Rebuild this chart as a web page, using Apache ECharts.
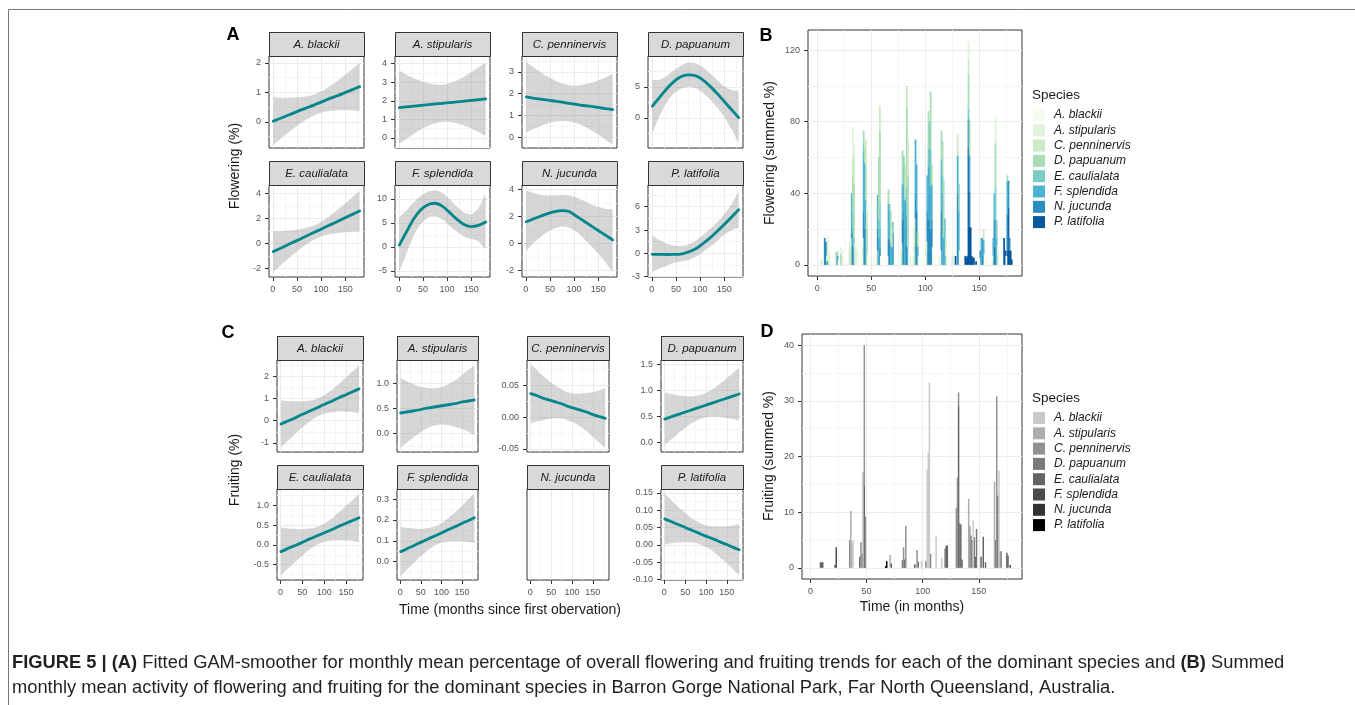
<!DOCTYPE html>
<html>
<head>
<meta charset="utf-8">
<title>Flowering and fruiting trends</title>
<script src="https://cdn.jsdelivr.net/npm/echarts@6.0.0/dist/echarts.min.js"></script>
<style>
  html, body { margin: 0; padding: 0; background: #fff; }
  #chart { width: 1355px; height: 705px; }
</style>
</head>
<body>
<div id="chart"></div>
<script>
var species = ['A. blackii', 'A. stipularis', 'C. penninervis', 'D. papuanum',
               'E. caulialata', 'F. splendida', 'N. jucunda', 'P. latifolia'];
var flowerColors = ['#f7fcf0', '#e0f3db', '#ccebc5', '#a8ddb5', '#7bccc4', '#4eb3d3', '#2b8cbe', '#08589e'];
var fruitColors = ['#c9c9c9', '#adadad', '#919191', '#7a7a7a', '#636363', '#4b4b4b', '#333333', '#000000'];

var gamMonths = [1, 15, 30, 45, 60, 75, 90, 105, 120, 135, 150, 165, 180];
var timeBreaks = [0, 50, 100, 150];

// (A) flowering
var flBlackiiFit = [0.02, 0.11, 0.21, 0.31, 0.41, 0.50, 0.60, 0.70, 0.80, 0.89, 0.99, 1.09, 1.19];
var flBlackiiLo  = [-0.78, -0.59, -0.39, -0.20, -0.02, 0.13, 0.25, 0.33, 0.37, 0.39, 0.39, 0.39, 0.39];
var flBlackiiHi  = [0.82, 0.81, 0.81, 0.82, 0.84, 0.87, 0.95, 1.07, 1.23, 1.40, 1.59, 1.79, 1.99];
var flStipularisFit = [1.63, 1.67, 1.71, 1.75, 1.79, 1.83, 1.86, 1.90, 1.94, 1.98, 2.02, 2.06, 2.10];
var flStipularisLo  = [-0.32, -0.06, 0.20, 0.44, 0.64, 0.79, 0.86, 0.86, 0.79, 0.67, 0.51, 0.33, 0.15];
var flStipularisHi  = [3.58, 3.40, 3.22, 3.06, 2.94, 2.87, 2.86, 2.94, 3.09, 3.29, 3.53, 3.79, 4.05];
var flPenninervisFit = [1.85, 1.80, 1.75, 1.71, 1.66, 1.61, 1.56, 1.51, 1.46, 1.42, 1.37, 1.32, 1.27];
var flPenninervisLo  = [0.25, 0.38, 0.51, 0.63, 0.71, 0.75, 0.73, 0.65, 0.51, 0.34, 0.13, -0.10, -0.33];
var flPenninervisHi  = [3.45, 3.22, 2.99, 2.79, 2.61, 2.47, 2.39, 2.37, 2.41, 2.50, 2.61, 2.74, 2.87];
var flPapuanumFit = [1.9, 3.2, 4.6, 5.8, 6.6, 6.9, 6.8, 6.15, 5.15, 3.95, 2.65, 1.35, 0.05];
var flPapuanumLo  = [-2.2, 0.2, 2.4, 3.9, 4.7, 5.0, 4.8, 4.1, 3.0, 1.7, 0.2, -1.8, -4.0];
var flPapuanumHi  = [6.0, 6.1, 6.7, 7.6, 8.4, 8.9, 8.8, 8.2, 7.2, 6.1, 5.1, 4.5, 4.2];
var flCaulialataFit = [-0.67, -0.42, -0.14, 0.13, 0.40, 0.68, 0.95, 1.22, 1.49, 1.76, 2.04, 2.31, 2.58];
var flCaulialataLo  = [-2.27, -1.80, -1.30, -0.81, -0.35, 0.07, 0.39, 0.61, 0.74, 0.82, 0.88, 0.93, 0.98];
var flCaulialataHi  = [0.93, 0.96, 1.02, 1.07, 1.15, 1.30, 1.51, 1.84, 2.24, 2.70, 3.20, 3.69, 4.18];
var flSplendidaFit = [0.4, 3.0, 5.7, 7.7, 8.8, 9.1, 8.5, 7.2, 5.8, 4.7, 4.25, 4.5, 5.2];
var flSplendidaLo  = [-5.1, -1.5, 2.2, 4.8, 6.1, 6.4, 5.7, 4.4, 3.2, 2.2, 1.7, 1.2, -0.3];
var flSplendidaHi  = [6.0, 7.5, 9.2, 10.6, 11.5, 11.8, 11.3, 10.0, 8.4, 7.2, 6.8, 8.0, 10.8];
var flJucundaFit = [1.6, 1.8, 2.0, 2.2, 2.35, 2.42, 2.35, 2.0, 1.65, 1.3, 0.95, 0.6, 0.25];
var flJucundaLo  = [-0.5, 0.0, 0.45, 0.85, 1.12, 1.25, 1.15, 0.85, 0.35, -0.2, -0.75, -1.4, -2.1];
var flJucundaHi  = [3.9, 3.75, 3.6, 3.55, 3.55, 3.58, 3.55, 3.4, 3.15, 2.9, 2.7, 2.55, 2.47];
var flLatifoliaFit = [-0.13, -0.14, -0.15, -0.14, -0.1, 0.15, 0.55, 1.2, 1.95, 2.8, 3.7, 4.65, 5.6];
var flLatifoliaLo  = [-2.4, -2.0, -1.6, -1.25, -1.05, -0.85, -0.5, 0.1, 0.8, 1.6, 2.4, 3.0, 3.4];
var flLatifoliaHi  = [2.2, 1.7, 1.3, 1.0, 0.95, 1.15, 1.6, 2.3, 3.1, 4.0, 5.0, 6.3, 7.9];

// (C) fruiting
var frBlackiiFit = [-0.15, -0.03, 0.10, 0.24, 0.37, 0.50, 0.64, 0.77, 0.90, 1.04, 1.17, 1.30, 1.43];
var frBlackiiLo  = [-1.20, -0.94, -0.67, -0.39, -0.15, 0.07, 0.24, 0.34, 0.38, 0.41, 0.40, 0.39, 0.38];
var frBlackiiHi  = [0.90, 0.88, 0.87, 0.87, 0.89, 0.93, 1.04, 1.20, 1.42, 1.67, 1.94, 2.21, 2.48];
var frStipularisFit = [0.41, 0.43, 0.45, 0.47, 0.50, 0.52, 0.54, 0.56, 0.58, 0.60, 0.63, 0.65, 0.67];
var frStipularisLo  = [-0.28, -0.19, -0.09, 0.00, 0.08, 0.14, 0.17, 0.18, 0.16, 0.13, 0.09, 0.04, -0.02];
var frStipularisHi  = [1.10, 1.05, 0.99, 0.94, 0.92, 0.90, 0.91, 0.94, 1.00, 1.07, 1.17, 1.27, 1.36];
var frPenninervisFit = [0.037, 0.034, 0.030, 0.027, 0.024, 0.021, 0.017, 0.014, 0.011, 0.008, 0.004, 0.001, -0.002];
var frPenninervisLo  = [-0.009, -0.007, -0.005, -0.003, -0.002, -0.002, -0.005, -0.009, -0.015, -0.022, -0.031, -0.040, -0.048];
var frPenninervisHi  = [0.083, 0.075, 0.065, 0.057, 0.050, 0.044, 0.039, 0.037, 0.037, 0.038, 0.039, 0.042, 0.044];
var frPapuanumFit = [0.45, 0.49, 0.53, 0.57, 0.61, 0.65, 0.69, 0.73, 0.77, 0.81, 0.85, 0.89, 0.93];
var frPapuanumLo  = [-0.05, 0.05, 0.15, 0.25, 0.34, 0.41, 0.46, 0.49, 0.50, 0.49, 0.47, 0.45, 0.43];
var frPapuanumHi  = [0.95, 0.93, 0.91, 0.89, 0.88, 0.89, 0.92, 0.97, 1.04, 1.13, 1.23, 1.33, 1.43];
var frCaulialataFit = [-0.17, -0.10, -0.03, 0.04, 0.12, 0.19, 0.26, 0.33, 0.40, 0.48, 0.55, 0.62, 0.69];
var frCaulialataLo  = [-0.77, -0.62, -0.47, -0.32, -0.17, -0.05, 0.04, 0.09, 0.11, 0.12, 0.11, 0.10, 0.09];
var frCaulialataHi  = [0.43, 0.42, 0.41, 0.40, 0.41, 0.43, 0.48, 0.57, 0.69, 0.84, 0.99, 1.14, 1.29];
var frSplendidaFit = [0.048, 0.061, 0.074, 0.088, 0.101, 0.115, 0.128, 0.142, 0.156, 0.169, 0.183, 0.196, 0.210];
var frSplendidaLo  = [-0.068, -0.040, -0.011, 0.018, 0.043, 0.067, 0.083, 0.094, 0.098, 0.099, 0.098, 0.095, 0.094];
var frSplendidaHi  = [0.164, 0.162, 0.159, 0.158, 0.159, 0.164, 0.173, 0.190, 0.214, 0.239, 0.268, 0.297, 0.326];
var frLatifoliaFit = [0.075, 0.068, 0.060, 0.053, 0.045, 0.038, 0.030, 0.023, 0.016, 0.008, 0.001, -0.007, -0.014];
var frLatifoliaLo  = [0.003, 0.005, 0.007, 0.008, 0.008, 0.006, 0.000, -0.009, -0.021, -0.037, -0.052, -0.070, -0.086];
var frLatifoliaHi  = [0.147, 0.131, 0.113, 0.098, 0.082, 0.070, 0.060, 0.055, 0.053, 0.053, 0.054, 0.056, 0.058];

// (B) summed monthly flowering, [month, %]
var flBarsBlackii = [[12,2],[13,2],[16,3],[20,3],[24,2],[28,2],[36,5],[37,5],[38,6],[40,3],[41,6],[42,5],[47,6],[49,4],[52,6],[53,7],[54,5],[55,3],[59,5],[63,3],[65,5],[72,5],[76,5],[85,10],[86,2],[89,3],[94,5],[96,3],[100,5],[107,4],[108,6],[110,3],[114,8],[120,3],[121,5],[126,2],[132,8],[134,5],[150,4],[155,6],[156,4],[157,3],[162,2],[175,5]];
var flBarsStipularis = [[10,14],[11,4],[17,7],[22,4],[23,3],[30,5],[31,5],[33,17],[34,7],[35,5],[36,10],[37,8],[42,10],[46,5],[55,5],[78,5],[86,6],[89,5],[90,6],[101,5],[107,6],[113,5],[120,5],[126,5],[140,10],[162,3],[165,15],[167,5]];
var flBarsPenninervis = [[4,3],[9,3],[11,4],[19,3],[23,5],[30,8],[31,10],[33,10],[34,15],[35,7],[44,5],[45,14],[46,10],[58,14],[69,11],[78,7],[83,12],[84,21],[90,10],[101,8],[119,10],[125,4],[130,12],[140,8],[154,6],[167,6]];
var flBarsPapuanum = [[22,6],[33,20],[34,30],[43,6],[44,8],[45,20],[46,20],[57,35],[58,40],[66,8],[68,18],[79,19],[81,20],[83,45],[84,40],[90,10],[93,8],[103,21],[105,33],[106,11],[115,16],[116,19],[117,33],[140,20],[141,20],[165,25],[176,3]];
var flBarsCaulialata = [[33,10],[34,5],[43,5],[57,10],[58,15],[67,4],[70,6],[80,6],[83,15],[103,10],[105,20],[116,10],[119,5],[131,15],[140,5],[165,18],[166,10]];
var flBarsSplendida = [[9,2],[10,2],[19,5],[32,22],[33,10],[34,10],[43,34],[44,37],[45,36],[56,19],[57,15],[58,10],[66,19],[67,16],[68,12],[69,10],[79,20],[80,25],[81,36],[82,18],[83,18],[84,10],[91,30],[92,26],[93,10],[102,20],[103,30],[104,40],[105,24],[106,20],[115,29],[116,40],[117,15],[118,26],[130,21],[131,30],[140,1],[141,20],[152,15],[154,14],[163,15],[164,15],[165,15],[166,15],[176,19]];
var flBarsJucunda = [[7,15],[8,13],[18,7],[32,18],[33,10],[43,30],[44,20],[56,20],[58,10],[66,15],[67,14],[70,18],[79,25],[80,30],[82,20],[83,10],[91,40],[92,30],[102,30],[103,25],[104,40],[105,20],[106,25],[115,30],[130,40],[140,15],[141,20],[151,8],[153,10],[164,15],[165,10],[176,20],[177,15],[178,7]];
var flBarsLatifolia = [[128,5],[137,5],[138,4],[139,5],[140,66],[141,21],[142,21],[143,5],[144,4],[145,4],[147,2],[153,5],[164,10],[173,15],[174,8],[176,8],[177,32],[178,8],[179,8],[180,3]];

// (D) summed monthly fruiting, [month, %]
var frBarsBlackii = [[38,5],[99,1.3],[104,17.7],[105,20.6],[106,33.3],[112,5.8],[117,1.8],[145,8.5],[168,17.5]];
var frBarsStipularis = [[36,10.2],[37,4.5],[47,17.2],[71,2.3],[141,12.4],[164,15.5]];
var frBarsPenninervis = [[35,5],[45,4.6],[48,25.3],[49,9.2],[83,3.7],[85,7.5],[95,3.2],[130,10.8],[131,16.2],[132,2.3],[142,7.5],[166,30.8],[169,3],[170,3]];
var frBarsPapuanum = [[46,2.5],[82,1.4],[107,2.5],[120,3.5],[133,8],[143,5.8],[144,5],[146,5.5],[148,7],[165,5]];
var frBarsCaulialata = [[9,1],[10,1],[11,1],[44,2],[48,14.7],[84,1.5],[96,1.1],[103,1.2],[121,4],[122,4],[132,29.2],[134,7.8],[135,1.5],[147,2],[152,2],[154,5.6],[156,1],[167,13],[175,2.7],[176,2.2]];
var frBarsSplendida = [[22,0.5],[23,3.7],[72,0.8],[93,0.6],[178,0.5]];
var frBarsJucunda = [];
var frBarsLatifolia = [[67,0.3],[68,1.2]];

var flowerFacets = [
  {name: 'A. blackii', fit: flBlackiiFit, lo: flBlackiiLo, hi: flBlackiiHi, y: [-0.89, 2.23], breaks: [0, 1, 2], dec: 0},
  {name: 'A. stipularis', fit: flStipularisFit, lo: flStipularisLo, hi: flStipularisHi, y: [-0.54, 4.41], breaks: [0, 1, 2, 3, 4], dec: 0},
  {name: 'C. penninervis', fit: flPenninervisFit, lo: flPenninervisLo, hi: flPenninervisHi, y: [-0.49, 3.73], breaks: [0, 1, 2, 3], dec: 0},
  {name: 'D. papuanum', fit: flPapuanumFit, lo: flPapuanumLo, hi: flPapuanumHi, y: [-4.84, 9.95], breaks: [0, 5], dec: 0},
  {name: 'E. caulialata', fit: flCaulialataFit, lo: flCaulialataLo, hi: flCaulialataHi, y: [-2.7, 4.66], breaks: [-2, 0, 2, 4], dec: 0},
  {name: 'F. splendida', fit: flSplendidaFit, lo: flSplendidaLo, hi: flSplendidaHi, y: [-6.25, 12.9], breaks: [-5, 0, 5, 10], dec: 0},
  {name: 'N. jucunda', fit: flJucundaFit, lo: flJucundaLo, hi: flJucundaHi, y: [-2.5, 4.32], breaks: [-2, 0, 2, 4], dec: 0},
  {name: 'P. latifolia', fit: flLatifoliaFit, lo: flLatifoliaLo, hi: flLatifoliaHi, y: [-3.05, 8.8], breaks: [-3, 0, 3, 6], dec: 0}
];
var fruitFacets = [
  {name: 'A. blackii', fit: frBlackiiFit, lo: frBlackiiLo, hi: frBlackiiHi, y: [-1.41, 2.73], breaks: [-1, 0, 1, 2], dec: 0},
  {name: 'A. stipularis', fit: frStipularisFit, lo: frStipularisLo, hi: frStipularisHi, y: [-0.37, 1.47], breaks: [0, 0.5, 1], dec: 1},
  {name: 'C. penninervis', fit: frPenninervisFit, lo: frPenninervisLo, hi: frPenninervisHi, y: [-0.055, 0.09], breaks: [-0.05, 0, 0.05], dec: 2},
  {name: 'D. papuanum', fit: frPapuanumFit, lo: frPapuanumLo, hi: frPapuanumHi, y: [-0.18, 1.58], breaks: [0, 0.5, 1, 1.5], dec: 1},
  {name: 'E. caulialata', fit: frCaulialataFit, lo: frCaulialataLo, hi: frCaulialataHi, y: [-0.89, 1.42], breaks: [-0.5, 0, 0.5, 1], dec: 1},
  {name: 'F. splendida', fit: frSplendidaFit, lo: frSplendidaLo, hi: frSplendidaHi, y: [-0.088, 0.348], breaks: [0, 0.1, 0.2, 0.3], dec: 1},
  {name: 'N. jucunda', y: [0, 1], breaks: [], dec: 0},
  {name: 'P. latifolia', fit: frLatifoliaFit, lo: frLatifoliaLo, hi: frLatifoliaHi, y: [-0.101, 0.161], breaks: [-0.1, -0.05, 0, 0.05, 0.1, 0.15], dec: 2}
];
var flowerBars = [flBarsBlackii, flBarsStipularis, flBarsPenninervis, flBarsPapuanum, flBarsCaulialata, flBarsSplendida, flBarsJucunda, flBarsLatifolia];
var fruitBars = [frBarsBlackii, frBarsStipularis, frBarsPenninervis, frBarsPapuanum, frBarsCaulialata, frBarsSplendida, frBarsJucunda, frBarsLatifolia];

// ---- layout ----
var FONT = '"Liberation Sans", Arial, Helvetica, sans-serif';
var STRIP = 24;
var gamRange = [-8, 189];
var colsA = [[269, 364], [395, 490], [522, 617], [648, 743]];
var rowsA = [[56, 148], [185, 277]];
var colsC = [[277, 363], [397, 478], [527, 609], [661, 743]];
var rowsC = [[360, 452], [489, 580]];
var ZW = '\u200b';

var grids = [], xAxes = [], yAxes = [], series = [], graphics = [];

function addGrid(l, t, r, b) {
  grids.push({left: l, top: t, width: r - l, height: b - t, show: true, backgroundColor: '#fff',
    borderColor: '#333', borderWidth: 1, containLabel: false, outerBoundsMode: 'none'});
  return grids.length - 1;
}

function minorOf(breaks, lo, hi) {
  if (breaks.length < 2) return [];
  var step = breaks[1] - breaks[0], out = [];
  for (var k = -1; k <= breaks.length; k++) {
    var v = +(breaks[0] + (k + 0.5) * step).toFixed(6);
    if (v > lo && v < hi) out.push(v);
  }
  return out;
}

function addValueAxis(list, gi, range, breaks, dec, labelled, pos) {
  var minors = minorOf(breaks, range[0], range[1]);
  list.push({
    type: 'value', gridIndex: gi, min: range[0], max: range[1], position: pos,
    axisLine: {show: false, onZero: false},
    axisTick: {show: labelled && breaks.length > 0, length: 4, customValues: breaks, lineStyle: {color: '#333', width: 1}},
    axisLabel: {show: labelled && breaks.length > 0, customValues: breaks, margin: 8, fontSize: 9,
      fontFamily: FONT, color: '#555', formatter: function (v) { return (+v).toFixed(dec); }},
    splitLine: {show: breaks.length > 0, lineStyle: {color: '#ebebeb', width: 1}}
  });
  var idx = list.length - 1;
  list.push({
    type: 'value', gridIndex: gi, min: range[0], max: range[1], position: pos === 'left' ? 'right' : 'top',
    axisLine: {show: false, onZero: false}, axisTick: {show: false, customValues: minors},
    axisLabel: {show: false, customValues: minors},
    splitLine: {show: minors.length > 0, lineStyle: {color: '#f5f5f5', width: 1}}
  });
  return idx;
}

function bandItem(params, api) {
  if (params.dataIndexInside !== 0) return null;
  var up = [], dn = [];
  for (var j = 0; j < params.dataInsideLength; j++) {
    up.push(api.coord([api.value(0, j), api.value(2, j)]));
    dn.unshift(api.coord([api.value(0, j), api.value(1, j)]));
  }
  var pts = up.concat(dn);
  var xs = pts.map(function (p) { return p[0]; }), ys = pts.map(function (p) { return p[1]; });
  var box = [[Math.min.apply(null, xs), Math.min.apply(null, ys)], [Math.max.apply(null, xs), Math.max.apply(null, ys)]];
  return {type: 'polygon', shape: {points: pts, smooth: 0.25, smoothConstraint: box},
    style: {fill: 'rgba(153,153,153,0.4)'}};
}

function addGam(xi, yi, f) {
  series.push({
    type: 'custom', xAxisIndex: xi, yAxisIndex: yi, silent: true, clip: true, z: 2,
    data: gamMonths.map(function (m, j) { return [m, f.lo[j], f.hi[j]]; }),
    encode: {x: 0, y: [1, 2]}, renderItem: bandItem
  });
  series.push({
    type: 'line', xAxisIndex: xi, yAxisIndex: yi, silent: true, z: 3,
    data: gamMonths.map(function (m, j) { return [m, f.fit[j]]; }),
    smooth: 0.35, showSymbol: false, symbol: 'none',
    lineStyle: {color: '#00868b', width: 2.8, cap: 'round', join: 'round'}
  });
}

function addStrip(l, r, t, name) {
  graphics.push({type: 'rect', silent: true, z: 10,
    shape: {x: l + 0.5, y: t - STRIP + 0.5, width: r - l, height: STRIP},
    style: {fill: '#d9d9d9', stroke: '#333', lineWidth: 1}});
  graphics.push({type: 'text', silent: true, z: 11, x: (l + r) / 2, y: t - STRIP / 2 + 0.5,
    style: {text: name, fontFamily: FONT, fontSize: 11.5, fontStyle: 'italic', fill: '#1a1a1a',
      align: 'center', verticalAlign: 'middle'}});
}

function layoutFacets(facets, cols, rows) {
  facets.forEach(function (f, i) {
    var c = cols[i % 4], r = rows[Math.floor(i / 4)];
    var gi = addGrid(c[0], r[0], c[1], r[1]);
    var xi = addValueAxis(xAxes, gi, gamRange, timeBreaks, 0, i >= 4, 'bottom');
    var yi = addValueAxis(yAxes, gi, f.y, f.breaks, f.dec, true, 'left');
    addStrip(c[0], c[1], r[0], f.name);
    if (f.fit) addGam(xi, yi, f);
  });
}

function monthsBetween(a, b) {
  var out = [];
  for (var m = a; m <= b; m++) out.push(String(m));
  return out;
}
function onBreak(index, value) { return timeBreaks.indexOf(+value) >= 0; }

function addBarPanel(box, cats, yRange, yBreaks, lists, colors, stackId, suffix, barW) {
  var gi = addGrid(box[0], box[1], box[2], box[3]);
  xAxes.push({
    type: 'category', gridIndex: gi, data: cats, position: 'bottom', boundaryGap: true,
    axisLine: {show: false, onZero: false},
    axisTick: {show: true, length: 4, alignWithLabel: true, interval: onBreak, lineStyle: {color: '#333', width: 1}},
    axisLabel: {show: true, interval: onBreak, margin: 8, fontSize: 9, fontFamily: FONT, color: '#555'},
    splitLine: {show: false}
  });
  var cx = xAxes.length - 1;
  addValueAxis(xAxes, gi, [+cats[0] - 0.5, +cats[cats.length - 1] + 0.5], timeBreaks, 0, false, 'bottom');
  var yi = addValueAxis(yAxes, gi, yRange, yBreaks, 0, true, 'left');
  for (var k = lists.length - 1; k >= 0; k--) {
    var lookup = {};
    lists[k].forEach(function (p) { lookup[p[0]] = p[1]; });
    series.push({
      type: 'bar', name: species[k] + suffix, xAxisIndex: cx, yAxisIndex: yi, stack: stackId,
      barWidth: barW, silent: true, itemStyle: {color: colors[k]},
      data: cats.map(function (m) { return lookup[m] || 0; })
    });
  }
}

layoutFacets(flowerFacets, colsA, rowsA);
layoutFacets(fruitFacets, colsC, rowsC);
addBarPanel([808, 30, 1022, 276], monthsBetween(-8, 189), [-6.25, 131.25], [0, 40, 80, 120],
  flowerBars, flowerColors, 'flower', '', 1.8);
addBarPanel([802, 334, 1022, 579], monthsBetween(-7, 188), [-2, 42], [0, 10, 20, 30, 40],
  fruitBars, fruitColors, 'fruit', ZW, 1.5);

function label(text, x, y, size, opts) {
  opts = opts || {};
  graphics.push({type: 'text', silent: true, z: 12, x: x, y: y, rotation: opts.rotate ? Math.PI / 2 : 0,
    style: {text: text, fontFamily: FONT, fontSize: size, fontWeight: opts.bold ? 'bold' : 'normal',
      fill: opts.color || '#1a1a1a', align: opts.align || 'center', verticalAlign: 'middle'}});
}

// panel letters and axis titles
label('A', 233, 35, 18, {bold: true, color: '#000'});
label('B', 766, 36, 18, {bold: true, color: '#000'});
label('C', 228, 333, 18, {bold: true, color: '#000'});
label('D', 767, 332, 18, {bold: true, color: '#000'});
label('Flowering (%)', 235, 166, 14, {rotate: true});
label('Fruiting (%)', 235, 470, 14, {rotate: true});
label('Time (months since first obervation)', 510, 610, 14);
label('Flowering (summed %)', 770, 153, 14, {rotate: true});
label('Fruiting (summed %)', 769, 456, 14, {rotate: true});
label('Time (in months)', 912, 607, 14);
label('Species', 1032, 95, 13.5, {align: 'left'});
label('Species', 1032, 398, 13.5, {align: 'left'});

// figure frame
graphics.push({type: 'polyline', silent: true, shape: {points: [[8.5, 705], [8.5, 9.5], [1355, 9.5]]},
  style: {stroke: '#777', lineWidth: 1, fill: null}});

// caption
var cap1 = 'FIGURE 5 | (A) Fitted GAM-smoother for monthly mean percentage of overall flowering and fruiting trends for each of the dominant species and (B) Summed';
var cap2 = 'monthly mean activity of flowering and fruiting for the dominant species in Barron Gorge National Park, Far North Queensland, Australia.';
var ctx = document.createElement('canvas').getContext('2d');
ctx.font = '16px "Liberation Sans"';
var capSize = Math.max(13, Math.min(19, 16 * 1271 / ctx.measureText(cap1).width));
var capRich = {b: {fontWeight: 'bold', fontFamily: FONT, fontSize: capSize, fill: '#231f20'}};
graphics.push({type: 'text', silent: true, x: 12, y: 663,
  style: {text: '{b|FIGURE 5 | (A)}' + cap1.slice(14, cap1.length - 10) + '{b|(B)} Summed',
    fontFamily: FONT, fontSize: capSize, fill: '#231f20', verticalAlign: 'middle', rich: capRich}});
graphics.push({type: 'text', silent: true, x: 12, y: 688,
  style: {text: cap2, fontFamily: FONT, fontSize: capSize, fill: '#231f20', verticalAlign: 'middle'}});

var legendBase = {
  orient: 'vertical', left: 1033, icon: 'rect', itemWidth: 12, itemHeight: 12, itemGap: 3.3,
  padding: 0, selectedMode: false, itemStyle: {borderWidth: 0},
  textStyle: {fontFamily: FONT, fontSize: 12, fontStyle: 'italic', color: '#1a1a1a', padding: [0, 0, 0, 4]}
};

var chart = echarts.init(document.getElementById('chart'));
chart.setOption({
  animation: false,
  backgroundColor: '#fff',
  textStyle: {fontFamily: FONT},
  grid: grids,
  xAxis: xAxes,
  yAxis: yAxes,
  legend: [
    Object.assign({}, legendBase, {top: 109, data: species.slice()}),
    Object.assign({}, legendBase, {top: 412, data: species.map(function (s) { return s + ZW; }),
      formatter: function (n) { return n.replace(ZW, ''); }})
  ],
  series: series,
  graphic: graphics
});
</script>
</body>
</html>
